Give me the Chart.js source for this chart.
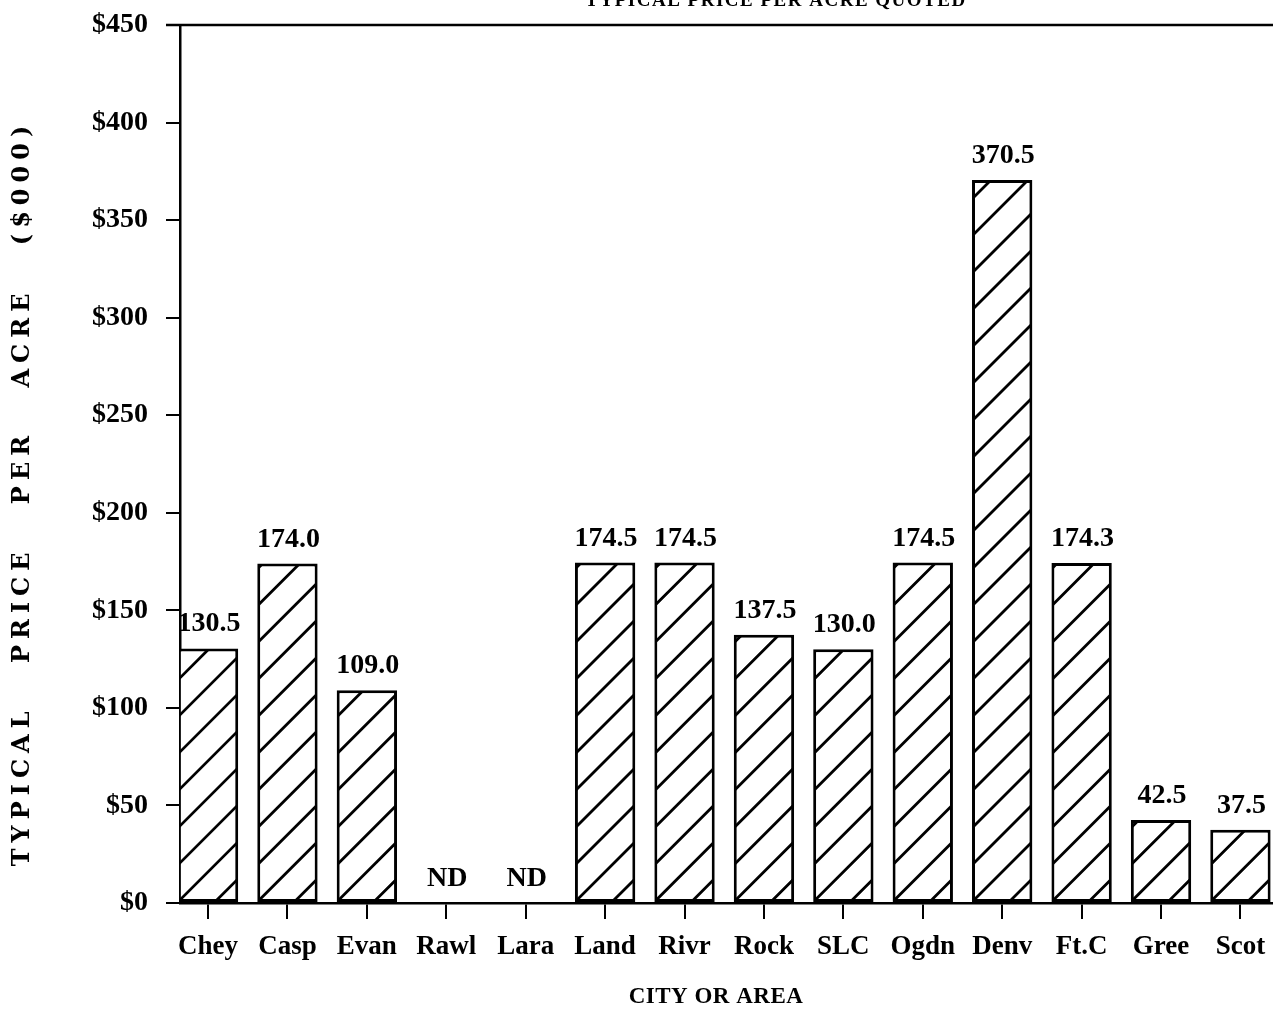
<!DOCTYPE html>
<html>
<head>
<meta charset="utf-8">
<title>Typical Price per Acre Quoted</title>
<script src="https://cdn.jsdelivr.net/npm/chart.js@4/dist/chart.umd.min.js"></script>
<style>
  html, body { margin: 0; padding: 0; background: #ffffff; overflow: hidden; }
  canvas { display: block; }
</style>
</head>
<body>
<canvas id="chart" width="1273" height="1020"></canvas>
<script>
// Cities / areas surveyed
const categories = ['Chey', 'Casp', 'Evan', 'Rawl', 'Lara', 'Land', 'Rivr', 'Rock', 'SLC', 'Ogdn', 'Denv', 'Ft.C', 'Gree', 'Scot'];
// Typical quoted price per acre, in thousands of dollars (null = no data)
const pricePerAcre = [130.5, 174.0, 109.0, null, null, 174.5, 174.5, 137.5, 130.0, 174.5, 370.5, 174.3, 42.5, 37.5];
// Value axis ticks
const yTicks = [0, 50, 100, 150, 200, 250, 300, 350, 400, 450];

const chartTitle = 'TYPICAL PRICE PER ACRE QUOTED';
const yTitle = 'TYPICAL PRICE PER ACRE ($000)';
const xTitle = 'CITY OR AREA';
const noDataText = 'ND';

const SERIF = '"Liberation Serif", "Times New Roman", serif';
const SLAB = '"DejaVu Serif", "Liberation Serif", serif';
const INK = '#000000';

// Diagonal hatching inside each bar, anchored at the bar's bottom-left corner
const hatchPlugin = {
  id: 'hatch',
  afterDatasetsDraw(chart) {
    const ctx = chart.ctx;
    const meta = chart.getDatasetMeta(0);
    const gap = 37;
    meta.data.forEach((bar, i) => {
      if (pricePerAcre[i] == null) return;
      const p = bar.getProps(['x', 'y', 'base', 'width'], true);
      const left = p.x - p.width / 2;
      const right = p.x + p.width / 2;
      const top = Math.min(p.y, p.base);
      const bottom = Math.max(p.y, p.base);
      ctx.save();
      ctx.beginPath();
      ctx.rect(left + 1.5, top + 1.5, right - left - 3, bottom - top - 3);
      ctx.clip();
      ctx.strokeStyle = INK;
      ctx.lineWidth = 2.8;
      const h = bottom - top;
      const kMin = -Math.ceil(h / gap) - 1;
      const kMax = Math.ceil((right - left) / gap) + 1;
      ctx.beginPath();
      for (let k = kMin; k <= kMax; k++) {
        const x0 = left + k * gap;
        ctx.moveTo(x0, bottom);
        ctx.lineTo(x0 + h + 10, bottom - h - 10);
      }
      ctx.stroke();
      ctx.restore();
    });
  }
};

// Value labels above the bars ("ND" where no quote was given)
const valueLabelPlugin = {
  id: 'valueLabels',
  afterDatasetsDraw(chart) {
    const ctx = chart.ctx;
    const yScale = chart.scales.y;
    const xScale = chart.scales.x;
    ctx.save();
    ctx.fillStyle = INK;
    ctx.font = 'bold 28px ' + SERIF;
    ctx.textAlign = 'center';
    ctx.textBaseline = 'alphabetic';
    pricePerAcre.forEach((v, i) => {
      const x = xScale.getPixelForValue(i) + 1;
      const y = yScale.getPixelForValue(v == null ? 0 : v) - 17;
      ctx.fillText(v == null ? noDataText : v.toFixed(1), x, y);
    });
    ctx.restore();
  }
};

// Frame line across the top, titles for the chart and both axes
const framePlugin = {
  id: 'frame',
  afterDraw(chart) {
    const ctx = chart.ctx;
    const area = chart.chartArea;
    ctx.save();
    ctx.strokeStyle = INK;
    ctx.lineWidth = 2.5;
    ctx.beginPath();
    ctx.moveTo(area.left - 14, area.top);
    ctx.lineTo(chart.width, area.top);
    ctx.stroke();

    ctx.fillStyle = INK;
    ctx.textAlign = 'center';

    // chart title, running off the top edge
    ctx.font = 'bold 19px ' + SERIF;
    ctx.letterSpacing = '1.5px';
    ctx.textBaseline = 'alphabetic';
    ctx.fillText(chartTitle, 776, 6);

    // x-axis title
    ctx.font = 'bold 23px ' + SERIF;
    ctx.letterSpacing = '0.5px';
    ctx.textBaseline = 'middle';
    ctx.fillText(xTitle, 716, 997);

    // y-axis title, rotated and widely spaced
    ctx.translate(23, 493);
    ctx.rotate(-Math.PI / 2);
    ctx.font = 'bold 24px ' + SLAB;
    ctx.letterSpacing = '6px';
    ctx.wordSpacing = '28px';
    ctx.textBaseline = 'middle';
    ctx.fillText(yTitle, 0, 0);
    ctx.restore();
  }
};

new Chart(document.getElementById('chart'), {
  type: 'bar',
  data: {
    datasets: [{
      data: pricePerAcre.map((v, i) => ({ x: i, y: v })),
      backgroundColor: '#ffffff',
      borderColor: INK,
      borderWidth: 3,
      borderSkipped: false,
      categoryPercentage: 1,
      barPercentage: 0.76
    }]
  },
  options: {
    responsive: false,
    animation: false,
    devicePixelRatio: 1,
    layout: { autoPadding: false, padding: { top: 25, right: 0, left: 0, bottom: 0 } },
    plugins: {
      legend: { display: false },
      tooltip: { enabled: false },
      title: { display: false }
    },
    scales: {
      x: {
        type: 'linear',
        offset: false,
        min: -0.353,
        max: 13.41,
        afterBuildTicks(scale) {
          scale.ticks = categories.map((_, i) => ({ value: i }));
        },
        afterFit(scale) {
          scale.height = 117;
          scale.paddingLeft = 0;
          scale.paddingRight = 0;
        },
        ticks: {
          autoSkip: false,
          maxRotation: 0,
          padding: 12,
          color: INK,
          font: { family: SERIF, size: 27, weight: 'bold' },
          callback: (v) => categories[v] ?? ''
        },
        grid: { offset: false, drawOnChartArea: false, drawTicks: true, tickLength: 16, color: INK, lineWidth: 2 },
        border: { display: true, color: INK, width: 2.5 }
      },
      y: {
        min: 0,
        max: 450,
        afterBuildTicks(scale) {
          scale.ticks = yTicks.map(v => ({ value: v }));
        },
        afterFit(scale) {
          scale.width = 180;
          scale.paddingTop = 0;
          scale.paddingBottom = 0;
        },
        ticks: {
          padding: 18,
          color: INK,
          font: { family: SERIF, size: 28, weight: 'bold' },
          callback: (v) => '$' + v
        },
        grid: { drawOnChartArea: false, drawTicks: true, tickLength: 14, color: INK, lineWidth: 2 },
        border: { display: true, color: INK, width: 2.5 }
      }
    }
  },
  plugins: [hatchPlugin, valueLabelPlugin, framePlugin]
});
</script>
</body>
</html>
